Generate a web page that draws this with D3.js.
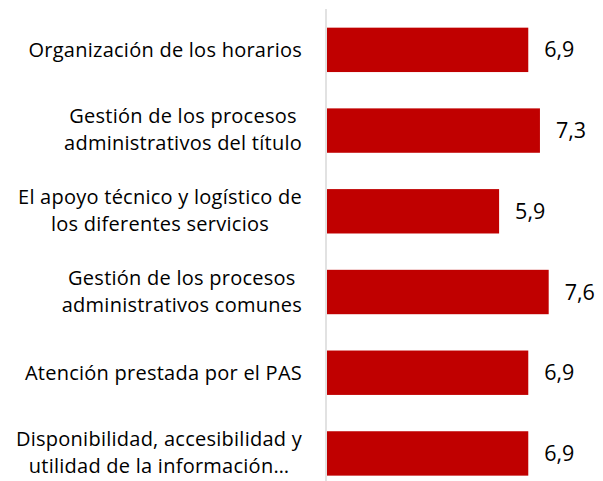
<!DOCTYPE html>
<html lang="es">
<head>
    <meta charset="UTF-8">
    <title>Valoración de servicios</title>
    <script src="https://cdn.jsdelivr.net/npm/d3@7"></script>
    <style>
        body { margin: 0; background: #fff; }
        .cat { font: 20px "Open Sans", sans-serif; letter-spacing: 0.25px; fill: #000; }
        .val { font: 21.5px "Open Sans", sans-serif; fill: #000; }
    </style>
</head>
<body>
<svg width="603" height="481"></svg>
<script>
    // categories, one entry per line of the wrapped label
    const categories = [
        ["Organización de los horarios"],
        ["Gestión de los procesos", "administrativos del título"],
        ["El apoyo técnico y logístico de", "los diferentes servicios"],
        ["Gestión de los procesos", "administrativos comunes"],
        ["Atención prestada por el PAS"],
        ["Disponibilidad, accesibilidad y", "utilidad de la información…"]
    ];
    const values = [6.9, 7.3, 5.9, 7.6, 6.9, 6.9];

    const width = 603, height = 481;
    const axisX = 326;
    const labelRight = 302;

    const svg = d3.select("svg");

    const x = d3.scaleLinear()
        .domain([0, 10])
        .range([axisX + 1, axisX + 1 + 291.7]);

    const y = d3.scaleBand()
        .domain(d3.range(values.length))
        .range([9.5, 493.8])
        .paddingInner(0.45)
        .paddingOuter(0.225);

    // bars
    svg.append("g")
        .selectAll("rect")
        .data(values)
        .join("rect")
        .attr("x", x(0))
        .attr("y", (d, i) => y(i))
        .attr("width", d => x(d) - x(0))
        .attr("height", y.bandwidth())
        .attr("fill", "#C00000");

    // vertical axis line
    svg.append("line")
        .attr("x1", axisX).attr("x2", axisX)
        .attr("y1", 9).attr("y2", height)
        .attr("stroke", "#d9d9d9")
        .attr("stroke-width", 1.5);

    // value labels
    svg.append("g")
        .selectAll("text")
        .data(values)
        .join("text")
        .attr("class", "val")
        .attr("x", d => x(d) + 16)
        .attr("y", (d, i) => y(i) + y.bandwidth() / 2)
        .attr("dy", "0.35em")
        .text(d => d.toFixed(1).replace(".", ","));

    // category labels: lines centred inside a right-aligned block
    const lineH = 27;
    const catG = svg.append("g")
        .selectAll("g")
        .data(categories)
        .join("g");

    catG.each(function(lines, i) {
        const g = d3.select(this);
        const cy = y(i) + y.bandwidth() / 2;
        const t = g.selectAll("text")
            .data(lines)
            .join("text")
            .attr("class", "cat")
            .attr("text-anchor", "middle")
            .attr("y", (d, k) => cy + (k - (lines.length - 1) / 2) * lineH + (lines.length > 1 ? -1 : 0))
            .attr("dy", "0.36em")
            .text(d => d);
        let w = 0;
        t.each(function() { w = Math.max(w, this.getComputedTextLength()); });
        t.attr("x", labelRight - w / 2);
    });
</script>
</body>
</html>
